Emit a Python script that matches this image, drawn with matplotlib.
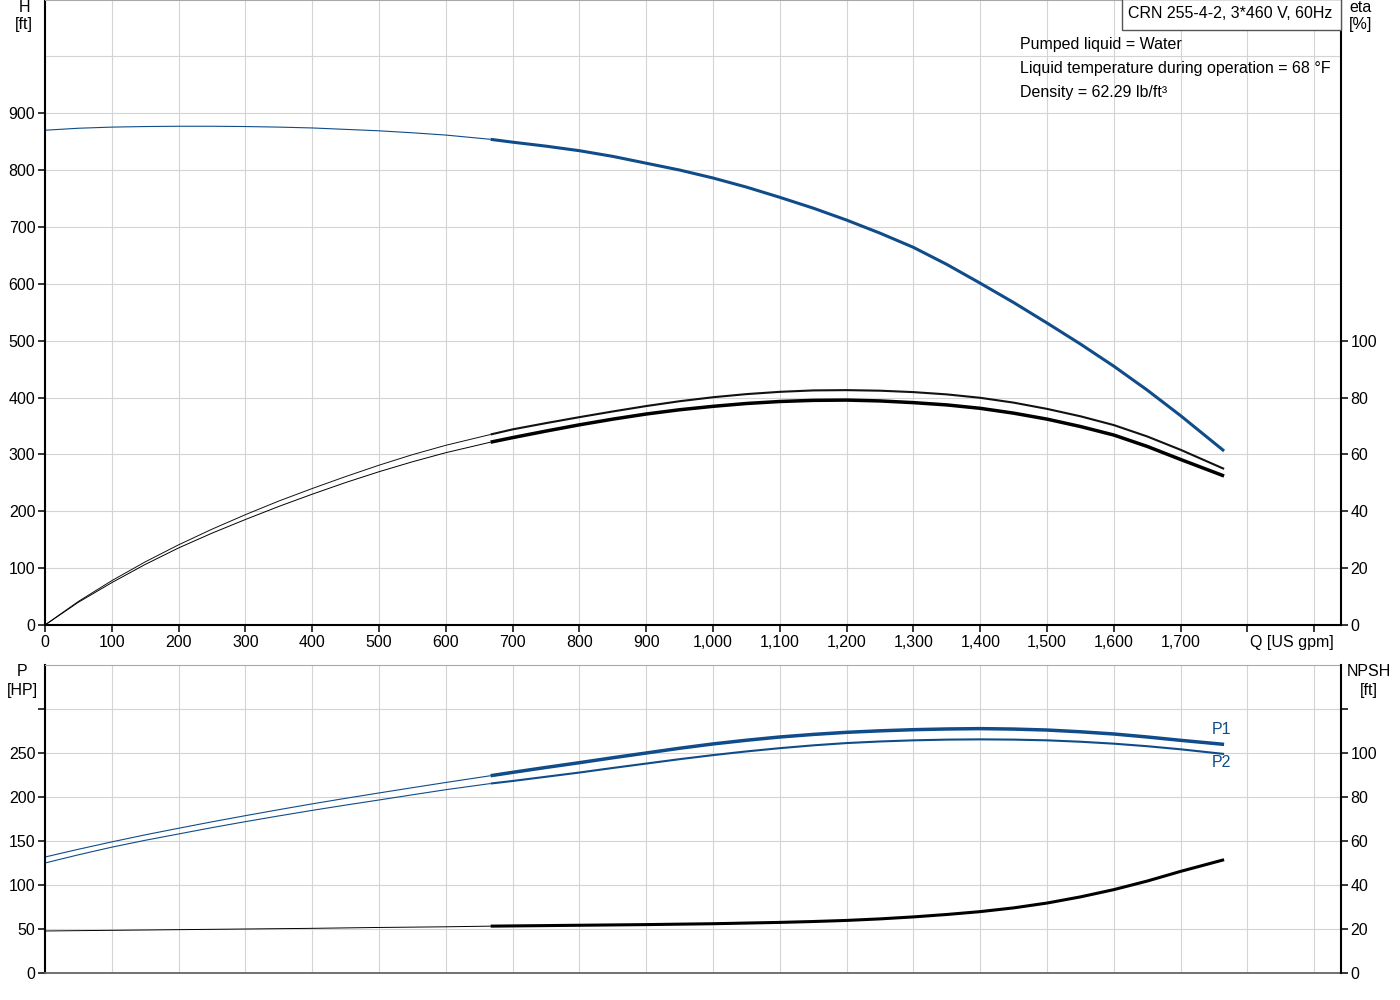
import matplotlib
matplotlib.use("Agg")
import matplotlib.pyplot as plt
from matplotlib.patches import Rectangle

plt.rcParams['font.family'] = ['Liberation Sans', 'DejaVu Sans']
plt.rcParams['font.size'] = 11.5

# flow points [US gpm]; curves are thin up to Q_SPLIT, thick after
q = [0, 50, 100, 150, 200, 250, 300, 350, 400, 450, 500, 550, 600, 667,
     700, 750, 800, 850, 900, 950, 1000, 1050, 1100, 1150, 1200, 1250,
     1300, 1350, 1400, 1450, 1500, 1550, 1600, 1650, 1700, 1765]
Q_SPLIT = 667

head = [870, 873.5, 875.5, 876.5, 877, 877, 876.5, 875.5, 874, 871.5, 869, 865.5, 861.5, 854,
        849, 842, 834, 824, 812, 800, 786, 770, 752, 733, 712, 689,
        664, 634, 601, 567, 531, 494, 455, 413, 368, 306]
eta_a = [0, 8.3, 15.6, 22.2, 28.2, 33.7, 38.8, 43.6, 48.0, 52.2, 56.2, 59.9, 63.2, 67.0,
         68.8, 71.0, 73.1, 75.1, 77.0, 78.7, 80.1, 81.2, 82.0, 82.5, 82.6, 82.4,
         81.9, 81.1, 79.9, 78.2, 76.0, 73.4, 70.3, 66.3, 61.6, 54.9]
eta_b = [0, 8.0, 14.9, 21.3, 27.1, 32.3, 37.1, 41.7, 46.0, 50.1, 53.9, 57.4, 60.6, 64.3,
         65.9, 68.2, 70.4, 72.4, 74.2, 75.7, 76.9, 77.9, 78.6, 79.0, 79.1, 78.8,
         78.2, 77.4, 76.2, 74.5, 72.4, 69.8, 66.8, 62.8, 58.2, 52.4]
p1 = [131.8, 140.6, 149.0, 157.0, 164.5, 171.8, 178.8, 185.6, 192.2, 198.5, 204.6, 210.6, 216.5, 224.2,
      228.0, 233.6, 239.0, 244.6, 250.0, 255.4, 260.3, 264.5, 268.2, 271.1, 273.5, 275.2,
      276.5, 277.3, 277.7, 277.2, 276.1, 274.1, 271.6, 268.2, 264.4, 259.8]
p2 = [125.0, 134.3, 143.0, 150.8, 158.0, 165.2, 172.0, 178.5, 184.8, 190.8, 196.6, 202.5, 208.3, 215.3,
      218.2, 223.0, 227.8, 233.0, 238.0, 243.0, 247.6, 251.8, 255.5, 258.7, 261.3, 263.1,
      264.4, 265.2, 265.5, 265.2, 264.4, 262.8, 260.6, 257.7, 254.2, 248.9]
npsh = [19.1, 19.25, 19.4, 19.55, 19.7, 19.85, 20.0, 20.15, 20.3, 20.5, 20.7, 20.85, 21.0, 21.3,
        21.4, 21.55, 21.7, 21.85, 22.0, 22.2, 22.4, 22.7, 23.0, 23.4, 23.9, 24.6,
        25.5, 26.6, 27.9, 29.6, 31.8, 34.6, 37.9, 41.8, 46.2, 51.5]

x_ticks = list(range(0, 2000, 100))
h_ticks = list(range(0, 1000, 100))
h_grid = list(range(0, 1100, 100))
eta_ticks = list(range(0, 120, 20))
p_ticks = list(range(0, 350, 50))
npsh_ticks = list(range(0, 140, 20))

title = "CRN 255-4-2, 3*460 V, 60Hz"
info = ["Pumped liquid = Water",
        "Liquid temperature during operation = 68 °F",
        "Density = 62.29 lb/ft³"]

BLUE = "#0f4c89"
GRID = "#d4d4d4"
W, H = 1400, 1000


def curve(ax, ys, color, lw_thin, lw_thick):
    i = q.index(Q_SPLIT)
    ax.plot(q[:i + 1], ys[:i + 1], color=color, lw=lw_thin, solid_capstyle='butt')
    ax.plot(q[i:], ys[i:], color=color, lw=lw_thick, solid_capstyle='butt')


def style(ax):
    ax.set_xlim(0, 1940)
    for x in x_ticks:
        ax.axvline(x, color=GRID, lw=0.8, zorder=0)
    ax.spines['top'].set_color("#a8a8a8")
    ax.spines['left'].set_linewidth(1.5)
    ax.spines['right'].set_visible(False)
    ax.tick_params(axis='y', length=5, width=1.1, pad=2)


def right_axis(ax, top, ticks, labels=None):
    r = ax.twinx()
    r.set_ylim(0, top)
    r.set_yticks(ticks)
    if labels is not None:
        r.set_yticklabels(labels)
    for s in ['top', 'bottom', 'left']:
        r.spines[s].set_visible(False)
    r.spines['right'].set_linewidth(1.5)
    r.tick_params(axis='y', length=5, width=1.1, pad=2)
    return r


fig = plt.figure(figsize=(14, 10), dpi=100)

# ---- top chart: head + efficiency
ax1 = fig.add_axes([45 / W, 1 - 625 / H, 1296 / W, 625 / H])
style(ax1)
ax1.set_ylim(0, 1099)
for y in h_grid:
    ax1.axhline(y, color=GRID, lw=0.8, zorder=0)
ax1.spines['bottom'].set_linewidth(1.5)
ax1.set_yticks(h_ticks)
ax1.set_xticks(x_ticks)
ax1.set_xticklabels([f"{v:,}" if v <= 1700 else "" for v in x_ticks])
ax1.tick_params(axis='x', length=5, width=1.1, pad=2)
ax1.annotate("Q [US gpm]", xy=(1866, 0), xycoords=('data', 'axes fraction'),
             xytext=(0, -7), textcoords='offset points', ha='center', va='top')

curve(ax1, head, BLUE, 0.8, 2.2)

ax1r = right_axis(ax1, 1099 / 5, eta_ticks)
curve(ax1r, eta_a, "#111111", 0.7, 1.5)
curve(ax1r, eta_b, "#000000", 0.7, 2.5)

# title box and liquid info
fig.patches.append(Rectangle((1122 / W, 1 - 30 / H), 219 / W, 31 / H, transform=fig.transFigure,
                             fc='white', ec='#555555', lw=1, zorder=5))
fig.text(1128 / W, 1 - 13 / H, title, ha='left', va='center', zorder=6)
for i, line in enumerate(info):
    fig.text(1020 / W, 1 - (44 + 24 * i) / H, line, ha='left', va='center')

# ---- bottom chart: power + NPSH
ax2 = fig.add_axes([45 / W, 1 - 973 / H, 1296 / W, 308 / H])
style(ax2)
ax2.set_ylim(0, 350)
for y in p_ticks:
    ax2.axhline(y, color=GRID, lw=0.8, zorder=0)
ax2.spines['bottom'].set_color("#666666")
ax2.spines['bottom'].set_linewidth(1.3)
ax2.set_xticks([])
ax2.set_yticks(p_ticks)
ax2.set_yticklabels([str(v) if v < 300 else "" for v in p_ticks])

curve(ax2, p1, BLUE, 0.8, 2.5)
curve(ax2, p2, BLUE, 0.8, 1.5)
ax2.text(1761, 276.5, "P1", color=BLUE, ha='center', va='center')
ax2.text(1761, 239, "P2", color=BLUE, ha='center', va='center')

ax2r = right_axis(ax2, 140, npsh_ticks, [str(v) if v < 120 else "" for v in npsh_ticks])
curve(ax2r, npsh, "#000000", 0.7, 2.2)

# axis unit labels
for x, y, txt in [(24, 8, "H"), (24, 25, "[ft]"), (1361, 8, "eta"), (1361, 25, "[%]"),
                  (22, 672, "P"), (22, 690, "[HP]"), (1369, 672, "NPSH"), (1369, 690, "[ft]")]:
    fig.text(x / W, 1 - y / H, txt, ha='center', va='center')

fig.savefig("out.png", dpi=100)
